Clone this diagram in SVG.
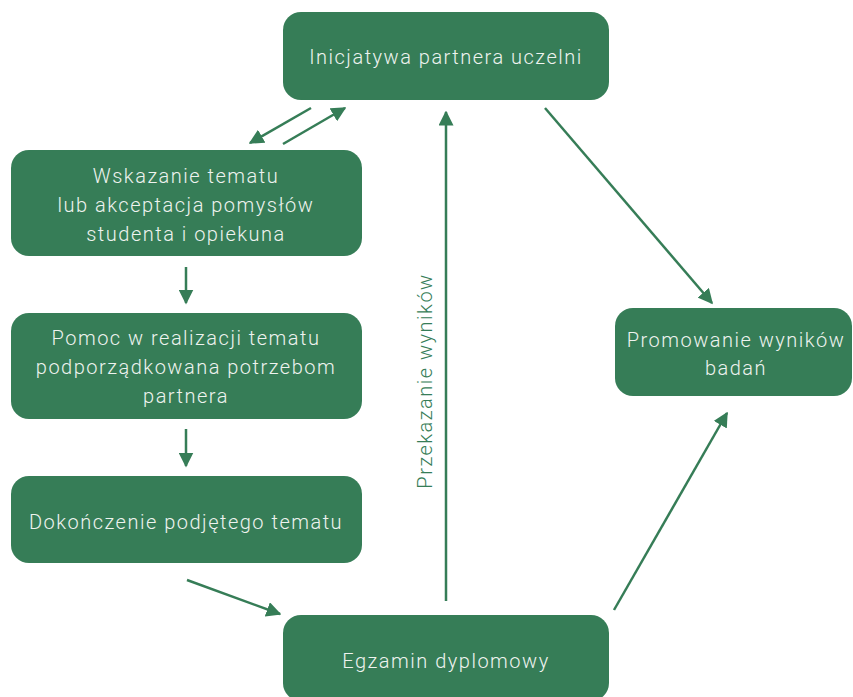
<svg xmlns="http://www.w3.org/2000/svg" width="853" height="697" viewBox="0 0 853 697">
<defs>
<style>
.node{fill:#367d57;}
.t{font-family:Roboto,"Liberation Sans",sans-serif;font-weight:300;font-size:20px;letter-spacing:1.5px;fill:#eef3ef;text-anchor:middle;}
.c{stroke:#367d57;stroke-width:2.5;fill:none;}
.lbl{font-family:Roboto,"Liberation Sans",sans-serif;font-weight:300;font-size:20px;letter-spacing:1.5px;fill:#367d57;text-anchor:middle;}
</style>
<marker id="ah" viewBox="0 0 10 10" refX="9" refY="5" markerWidth="6" markerHeight="6" markerUnits="strokeWidth" orient="auto">
<path d="M0,0 L10,5 L0,10 z" fill="#367d57"/>
</marker>
</defs>
<rect width="853" height="697" fill="#ffffff"/>
<g id="connectors">
<line class="c" x1="311" y1="108" x2="250" y2="143" marker-end="url(#ah)"/>
<line class="c" x1="283" y1="144" x2="345" y2="108" marker-end="url(#ah)"/>
<line class="c" x1="186" y1="267" x2="186" y2="303" marker-end="url(#ah)"/>
<line class="c" x1="186" y1="429" x2="186" y2="466" marker-end="url(#ah)"/>
<line class="c" x1="187" y1="580" x2="280" y2="614" marker-end="url(#ah)"/>
<line class="c" x1="446" y1="601" x2="446" y2="112" marker-end="url(#ah)"/>
<line class="c" x1="545" y1="108" x2="712" y2="303" marker-end="url(#ah)"/>
<line class="c" x1="614" y1="610" x2="727" y2="413" marker-end="url(#ah)"/>
<text class="lbl" transform="translate(432,381) rotate(-90)">Przekazanie wyników</text>
</g>
<g id="n-inicjatywa">
<rect class="node" x="283" y="12" width="326" height="88" rx="18"/>
<text class="t" x="446" y="64">Inicjatywa partnera uczelni</text>
</g>
<g id="n-wskazanie">
<rect class="node" x="11" y="150" width="351" height="106" rx="18"/>
<text class="t" x="186" y="183">Wskazanie tematu</text>
<text class="t" x="186" y="212">lub akceptacja pomysłów</text>
<text class="t" x="186" y="241">studenta i opiekuna</text>
</g>
<g id="n-pomoc">
<rect class="node" x="11" y="313" width="351" height="106" rx="18"/>
<text class="t" x="186" y="345">Pomoc w realizacji tematu</text>
<text class="t" x="186" y="374">podporządkowana potrzebom</text>
<text class="t" x="186" y="403">partnera</text>
</g>
<g id="n-dokonczenie">
<rect class="node" x="11" y="476" width="351" height="87" rx="18"/>
<text class="t" x="186" y="529">Dokończenie podjętego tematu</text>
</g>
<g id="n-promowanie">
<rect class="node" x="615" y="308" width="237" height="88" rx="18"/>
<text class="t" x="736" y="347">Promowanie wyników</text>
<text class="t" x="736" y="375">badań</text>
</g>
<g id="n-egzamin">
<rect class="node" x="283" y="615" width="326" height="86" rx="18"/>
<text class="t" x="446" y="668">Egzamin dyplomowy</text>
</g>
</svg>
